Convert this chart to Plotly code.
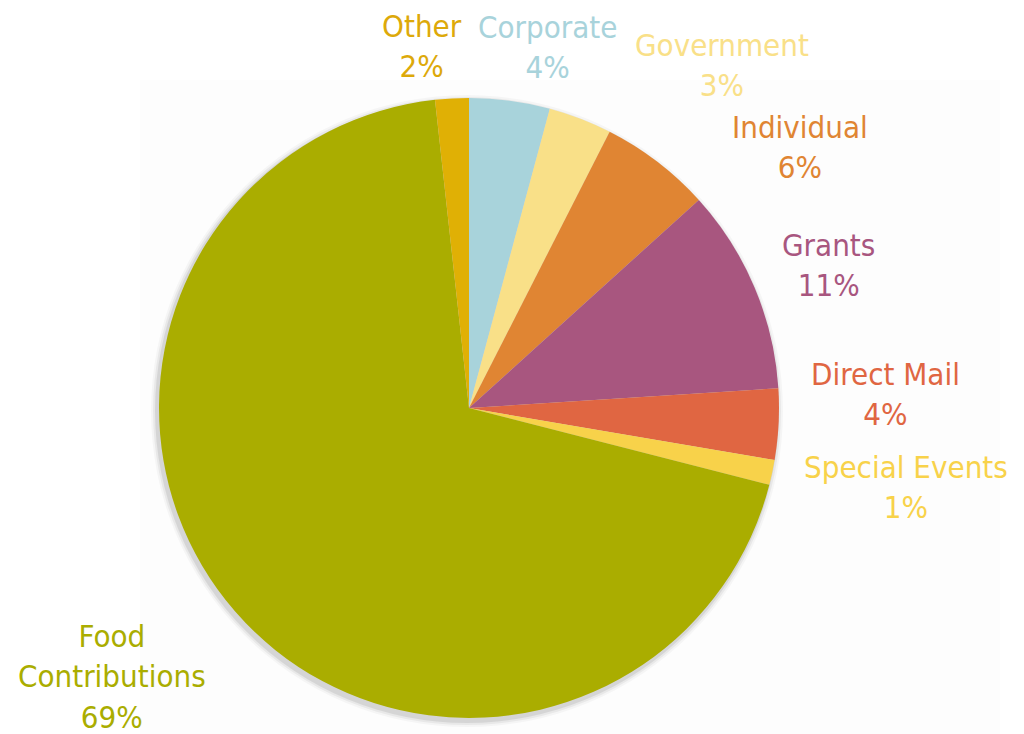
import plotly.graph_objects as go

labels = ["Corporate", "Government", "Individual", "Grants", "Direct Mail",
          "Special Events", "Food Contributions", "Other"]
values = [4.2, 3.3, 5.8, 10.7, 3.7, 1.3, 69.3, 1.75]
colors = ["#A8D3DB", "#F9E088", "#E08533", "#A8567F", "#E06642",
          "#F8D24A", "#AAAD00", "#E0B005"]
text_colors = ["#A8D3DB", "#F9E088", "#E08533", "#A8567F", "#E06642",
               "#F8D24A", "#AAAD00", "#DDA90A"]
display_labels = ["Corporate", "Government", "Individual", "Grants", "Direct Mail",
                  "Special Events", "Food<br>Contributions", "Other"]

OFF = 8  # page body margin
# label block centres in screen pixels (layout only)
label_pos = [(547, 47), (722, 65), (800, 147), (828, 265), (885, 394),
             (906, 487), (112, 676), (422, 46)]

W, H = 1024, 734
cx, cy, r = 469 - OFF, 408 - OFF, 310

fig = go.Figure()
fig.add_trace(go.Pie(
    labels=labels, values=values, sort=False, direction="clockwise", rotation=0,
    marker=dict(colors=colors, line=dict(width=0)),
    textinfo="none", hoverinfo="label+percent", showlegend=False,
    domain=dict(x=[(cx - r) / W, (cx + r) / W], y=[(H - cy - r) / H, (H - cy + r) / H]),
))

total = sum(values)
for lab, v, col, (px, py) in zip(display_labels, values, text_colors, label_pos):
    fig.add_annotation(
        x=(px - OFF) / W, y=1 - (py - OFF) / H, xref="paper", yref="paper",
        text=f"{lab}<br>{round(v / total * 100)}%", showarrow=False,
        font=dict(family="DejaVu Sans Condensed, DejaVu Sans", size=31, color=col),
        align="center", xanchor="center", yanchor="middle",
    )

# faint background panel and soft shadow
fig.add_shape(type="rect", xref="paper", yref="paper", layer="below",
              x0=(140 - OFF) / W, x1=(1000 - OFF) / W, y0=0, y1=1 - (80 - OFF) / H,
              fillcolor="#FDFDFD", line=dict(width=0))
for i, a in enumerate([0.03, 0.05, 0.08]):
    rr = r + 6 - 2 * i
    fig.add_shape(type="circle", xref="paper", yref="paper", layer="below",
                  x0=(cx - 2 - rr) / W, x1=(cx - 2 + rr) / W,
                  y0=1 - (cy + 3 + rr) / H, y1=1 - (cy + 3 - rr) / H,
                  fillcolor=f"rgba(0,0,0,{a})", line=dict(width=0))

fig.update_layout(width=W, height=H, margin=dict(l=0, r=0, t=0, b=0),
                  paper_bgcolor="white", plot_bgcolor="white")
fig.write_html("out.html")
